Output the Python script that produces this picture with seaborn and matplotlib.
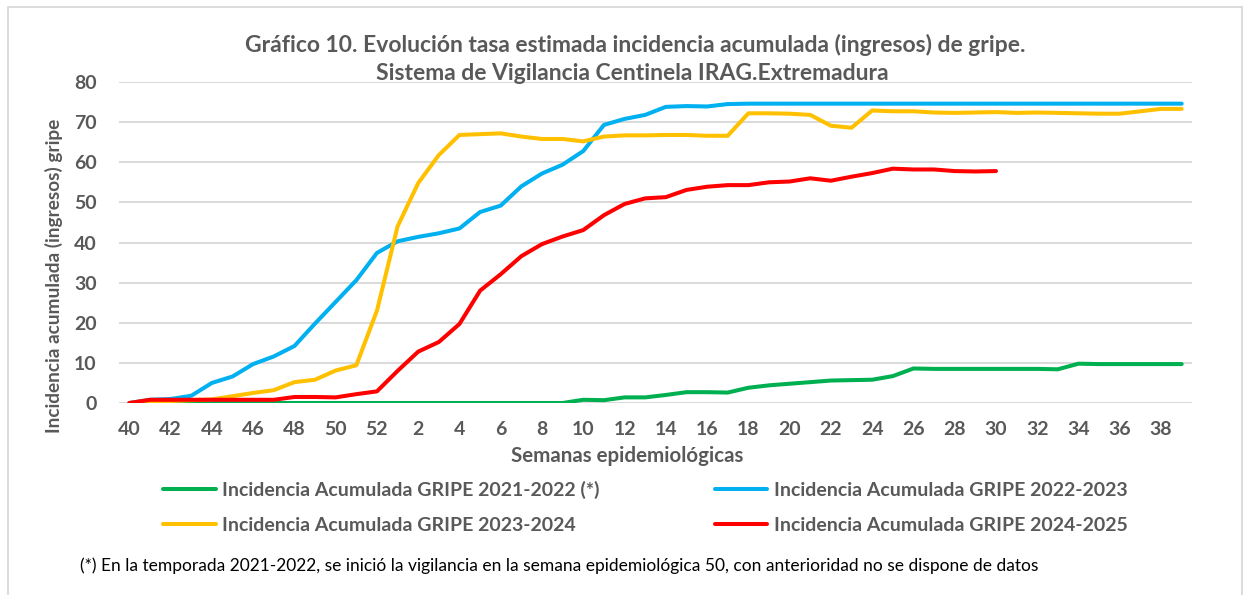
import numpy as np
import pandas as pd
import matplotlib
matplotlib.use("Agg")
import matplotlib.pyplot as plt
from matplotlib.lines import Line2D
from matplotlib.patches import Rectangle
import seaborn as sns

# ---- data ----
weeks = list(range(40, 53)) + list(range(1, 40))
tick_labels = [str(w) for w in weeks]

gripe_2021_2022 = [0]*22 + [0.8, 0.7, 1.4, 1.4, 2.0, 2.7, 2.7, 2.6, 3.8, 4.4, 4.8, 5.2, 5.6, 5.7,
                            5.8, 6.7, 8.6, 8.5, 8.5, 8.5, 8.5, 8.5, 8.5, 8.4, 9.8, 9.7, 9.7, 9.7, 9.7, 9.7]
gripe_2022_2023 = [0, 0.8, 1.0, 1.8, 5.0, 6.6, 9.7, 11.6, 14.2, 19.8, 25.2, 30.6, 37.4, 40.3, 41.4,
                   42.3, 43.5, 47.6, 49.2, 54.0, 57.2, 59.4, 62.8, 69.3, 70.8, 71.8, 73.8, 74.0, 73.9,
                   74.5] + [74.6]*22
gripe_2023_2024 = [0, 0.2, 0.5, 0.7, 0.9, 1.7, 2.5, 3.2, 5.2, 5.8, 8.1, 9.4, 23.0, 44.0, 54.8, 61.8,
                   66.8, 67.0, 67.2, 66.4, 65.8, 65.8, 65.2, 66.4, 66.7, 66.7, 66.8, 66.8, 66.6, 66.6,
                   72.2, 72.2, 72.1, 71.8, 69.1, 68.6, 72.9, 72.7, 72.7, 72.4, 72.3, 72.4, 72.5, 72.3,
                   72.4, 72.3, 72.2, 72.1, 72.1, 72.7, 73.3, 73.3]
gripe_2024_2025 = [0, 0.8, 0.8, 0.8, 0.8, 0.8, 0.8, 0.8, 1.5, 1.5, 1.4, 2.2, 2.9, 8.0, 12.8, 15.2,
                   19.7, 28.0, 32.1, 36.6, 39.6, 41.5, 43.1, 46.8, 49.6, 51.0, 51.3, 53.1, 53.9, 54.3,
                   54.3, 55.0, 55.2, 56.0, 55.4, 56.4, 57.3, 58.4, 58.2, 58.2, 57.8, 57.7, 57.8] + [np.nan]*9

series_names = ["Incidencia Acumulada GRIPE 2021-2022 (*)",
                "Incidencia Acumulada GRIPE 2022-2023",
                "Incidencia Acumulada GRIPE 2023-2024",
                "Incidencia Acumulada GRIPE 2024-2025"]
series_values = [gripe_2021_2022, gripe_2022_2023, gripe_2023_2024, gripe_2024_2025]
colors = ["#00B050", "#00B0F0", "#FFC000", "#FF0000"]

# ---- figure ----
sns.set_theme(style="white")
plt.rcParams['font.family'] = ['Lato', 'DejaVu Sans']

W, H = 1243, 595
fig = plt.figure(figsize=(W/100, H/100), dpi=100)
fig.patch.set_facecolor("white")
ax = fig.add_axes([119/W, 1 - 403/H, (1192-119)/W, (403-82)/H])

frames = []
for name, vals in zip(series_names, series_values):
    frames.append(pd.DataFrame({"pos": np.arange(len(weeks)), "valor": vals, "serie": name}))
df = pd.concat(frames, ignore_index=True)

for name, col in zip(series_names, colors):
    sub = df[df["serie"] == name].dropna()
    sns.lineplot(data=sub, x="pos", y="valor", color=col, linewidth=2.9, ax=ax,
                 legend=False, solid_joinstyle="round", solid_capstyle="round")

ax.set_xlim(-0.5, len(weeks) - 0.5)
ax.set_ylim(0, 80)
ax.set_yticks(range(0, 81, 10))
ax.set_xticks(range(0, len(weeks), 2))
ax.set_xticklabels(tick_labels[::2])
ax.grid(axis="y", color="#D9D9D9", linewidth=1.4)
ax.grid(axis="x", visible=False)
ax.set_axisbelow(True)
for s in ax.spines.values():
    s.set_visible(False)
ax.tick_params(axis="both", length=0, labelsize=14, labelcolor="#595959")
ax.tick_params(axis="y", pad=16)
ax.tick_params(axis="x", pad=13)
for lab in ax.get_xticklabels() + ax.get_yticklabels():
    lab.set_fontweight("bold")
ax.set_xlabel("")
ax.set_ylabel("")

# titles and labels
fig.text(635/W, 1 - 45/H, "Gráfico 10. Evolución tasa estimada incidencia acumulada (ingresos) de gripe.",
         ha="center", va="center", fontsize=16.5, fontweight="bold", color="#595959")
fig.text(632/W, 1 - 73/H, "Sistema de Vigilancia Centinela IRAG.Extremadura",
         ha="center", va="center", fontsize=16.5, fontweight="bold", color="#595959")
fig.text(627/W, 1 - 456/H, "Semanas epidemiológicas", ha="center", va="center",
         fontsize=14.8, fontweight="bold", color="#595959")
fig.text(54/W, 1 - 276/H, "Incidencia acumulada (ingresos) gripe", ha="center", va="center",
         rotation=90, fontsize=13.7, fontweight="bold", color="#595959")

# legend
handles = [Line2D([0], [0], color=c, linewidth=2.9) for c in colors]
order = [0, 2, 1, 3]
leg = fig.legend([handles[i] for i in order], [series_names[i] for i in order],
                 loc="upper left", bbox_to_anchor=(163/W, 1 - 481/H), ncol=2,
                 frameon=False, fontsize=14, handlelength=2.7, handletextpad=0.35,
                 columnspacing=5.9, labelspacing=0.93, borderpad=0, borderaxespad=0)
for t in leg.get_texts():
    t.set_color("#595959")
    t.set_fontweight("bold")

fig.text(80/W, 1 - 566/H,
         "(*) En la temporada 2021-2022, se inició la vigilancia en la semana epidemiológica 50, con anterioridad no se dispone de datos",
         ha="left", va="center", fontsize=12.5, color="black")

# outer border
fig.patches.append(Rectangle((8/W, -0.05), (1242-8)/W, 1 - 7/H + 0.05, transform=fig.transFigure,
                             fill=False, edgecolor="#D9D9D9", linewidth=1.3))

fig.savefig("out.png", dpi=100, facecolor="white")
